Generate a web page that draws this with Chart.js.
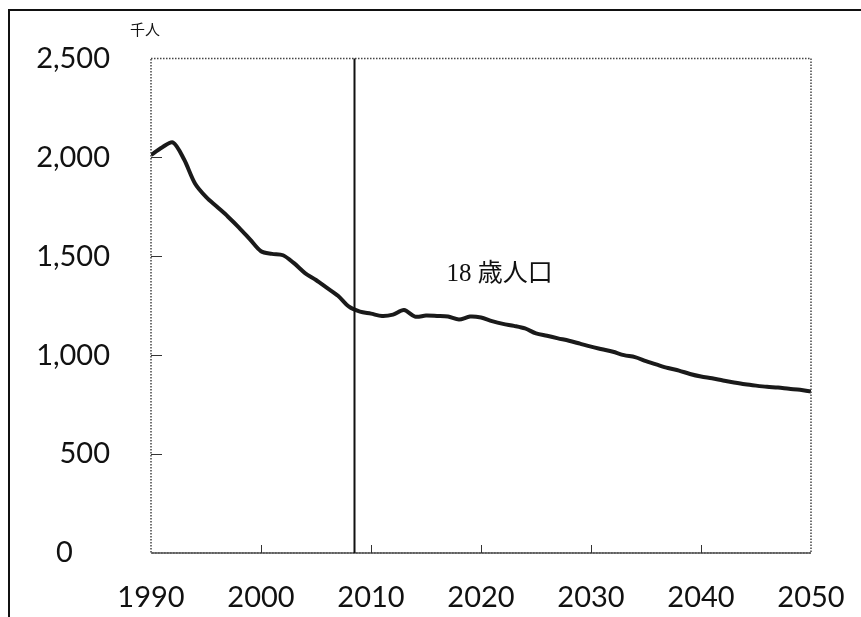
<!DOCTYPE html>
<html>
<head>
<meta charset="utf-8">
<script src="https://cdn.jsdelivr.net/npm/chart.js@4.4.0/dist/chart.umd.min.js"></script>
<style>
  html, body { margin: 0; padding: 0; background: #fff; }
  #wrap { position: relative; width: 861px; height: 617px; }
</style>
</head>
<body>
<div id="wrap"><canvas id="chart"></canvas></div>
<script>
// 18歳人口 (千人), 1990-2050
const years = [];
for (let y = 1990; y <= 2050; y++) years.push(y);
const population = [
  2012, 2050, 2075, 1990, 1868, 1800, 1750, 1700, 1645, 1585,
  1525, 1512, 1505, 1465, 1415, 1380, 1340, 1300, 1245, 1220,
  1210, 1198, 1205, 1228, 1195, 1200, 1198, 1195, 1180, 1195,
  1190, 1172, 1158, 1148, 1135, 1110, 1098, 1085, 1073, 1058,
  1043, 1030, 1017, 1000, 990, 970, 952, 935, 922, 905,
  892, 883, 872, 862, 853, 846, 840, 836, 830, 825,
  816
];
const xTicks = [1990, 2000, 2010, 2020, 2030, 2040, 2050];
const yTicks = [0, 500, 1000, 1500, 2000, 2500];
const dividerYear = 2008.5;
const unitLabel = '千人';
const seriesLabel = '18 歳人口';
const seriesLabelPos = { x: 2021.7, y: 1408 };

const decorations = {
  id: 'decorations',
  beforeDraw(chart) {
    const ctx = chart.ctx;
    ctx.save();
    ctx.fillStyle = '#fff';
    ctx.fillRect(0, 0, chart.width, chart.height);
    // outer frame (left + top)
    ctx.strokeStyle = '#111';
    ctx.lineWidth = 2;
    ctx.beginPath();
    ctx.moveTo(9, chart.height);
    ctx.lineTo(9, 10);
    ctx.lineTo(chart.width, 10);
    ctx.stroke();
    ctx.restore();
  },
  afterDatasetsDraw(chart) {
    const ctx = chart.ctx;
    const a = chart.chartArea;
    const xs = chart.scales.x, ys = chart.scales.y;
    ctx.save();
    // dotted plot frame
    ctx.strokeStyle = '#444';
    ctx.lineWidth = 1.5;
    ctx.setLineDash([1.5, 1.5]);
    ctx.strokeRect(a.left, a.top, a.right - a.left, a.bottom - a.top);
    ctx.setLineDash([]);
    ctx.strokeStyle = '#555';
    ctx.lineWidth = 1.5;
    ctx.beginPath();
    ctx.moveTo(a.left, a.bottom);
    ctx.lineTo(a.right, a.bottom);
    ctx.stroke();
    // inner ticks
    ctx.strokeStyle = '#333';
    ctx.lineWidth = 1;
    ctx.beginPath();
    xTicks.slice(1, -1).forEach(v => {
      const px = Math.round(xs.getPixelForValue(v)) + 0.5;
      ctx.moveTo(px, a.bottom);
      ctx.lineTo(px, a.bottom - 8);
    });
    yTicks.slice(1, -1).forEach(v => {
      const py = Math.round(ys.getPixelForValue(v)) + 0.5;
      ctx.moveTo(a.left, py);
      ctx.lineTo(a.left + 11, py);
    });
    ctx.stroke();
    // divider line
    const dx = xs.getPixelForValue(dividerYear);
    ctx.strokeStyle = '#111';
    ctx.lineWidth = 2;
    ctx.beginPath();
    ctx.moveTo(dx, a.top);
    ctx.lineTo(dx, a.bottom);
    ctx.stroke();
    // unit label
    ctx.fillStyle = '#111';
    ctx.font = '15px "Noto Sans CJK JP"';
    ctx.textAlign = 'center';
    ctx.textBaseline = 'middle';
    ctx.fillText(unitLabel, 145, 29);
    // series label
    ctx.font = '25px "Liberation Serif", "Noto Sans CJK JP"';
    ctx.fillText(seriesLabel, xs.getPixelForValue(seriesLabelPos.x), ys.getPixelForValue(seriesLabelPos.y));
    ctx.restore();
  }
};

new Chart(document.getElementById('chart'), {
  type: 'line',
  data: {
    labels: years,
    datasets: [{
      label: seriesLabel,
      data: years.map((y, i) => ({ x: y, y: population[i] })),
      borderColor: '#1a1a1a',
      borderWidth: 4,
      pointRadius: 0,
      tension: 0.3,
      fill: false
    }]
  },
  options: {
    responsive: true,
    maintainAspectRatio: false,
    animation: false,
    layout: { padding: { top: 55, right: 50, left: 0, bottom: 0 } },
    plugins: { legend: { display: false }, tooltip: { enabled: false } },
    scales: {
      x: {
        type: 'linear',
        min: 1990,
        max: 2050,
        afterBuildTicks: s => { s.ticks = xTicks.map(v => ({ value: v })); },
        afterFit: s => { s.height = 64; s.paddingLeft = 0; s.paddingRight = 0; },
        grid: { display: false, drawTicks: false },
        border: { display: false },
        ticks: {
          color: '#111',
          padding: 27,
          maxRotation: 0,
          font: { family: 'Lato', size: 29 },
          callback: v => String(v)
        }
      },
      y: {
        min: 0,
        max: 2500,
        afterBuildTicks: s => { s.ticks = yTicks.map(v => ({ value: v })); },
        afterFit: s => { s.width = 151; },
        grid: { display: false, drawTicks: false },
        border: { display: false },
        ticks: {
          color: '#111',
          padding: 41,
          font: { family: 'Lato', size: 29 },
          callback: v => v === 0 ? '0\u2007\u2007\u2009' : v.toLocaleString('en-US')
        }
      }
    }
  },
  plugins: [decorations]
});
</script>
</body>
</html>
